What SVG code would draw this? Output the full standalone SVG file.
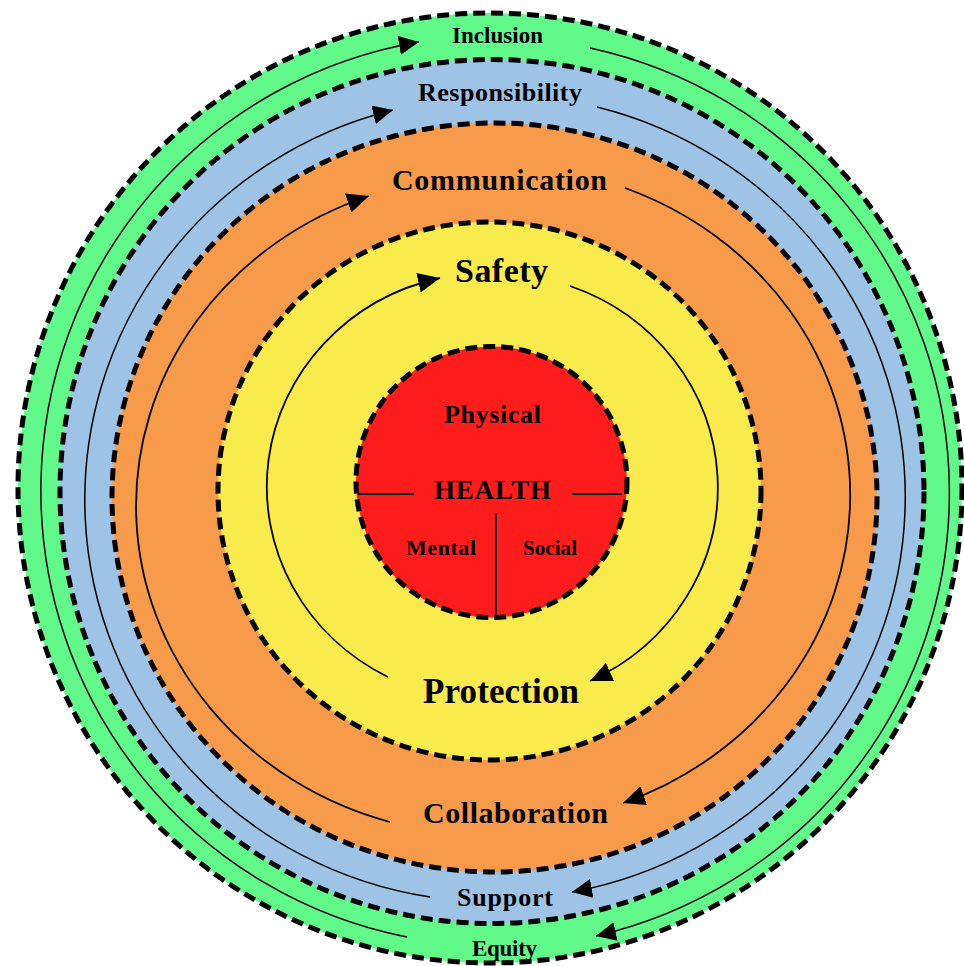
<svg xmlns="http://www.w3.org/2000/svg" width="964" height="966" viewBox="0 0 964 966">
<style>
.ring{stroke:#000;stroke-width:5;stroke-dasharray:12 6}
.arc{fill:none;stroke:#000}
.t{font-family:"Liberation Serif","Times New Roman",serif;font-weight:bold;fill:#000;text-anchor:middle}
.div{stroke:#000;stroke-width:1.8}
</style>
<defs>
<marker id="ahL" viewBox="0 0 22 20" refX="22" refY="10" markerWidth="22" markerHeight="20" markerUnits="userSpaceOnUse" orient="auto"><path d="M0,0 L22,10 L0,20 z" fill="#000"/></marker>
<marker id="ahS" viewBox="0 0 20 19" refX="20" refY="9.5" markerWidth="20" markerHeight="19" markerUnits="userSpaceOnUse" orient="auto"><path d="M0,0 L20,9.5 L0,19 z" fill="#000"/></marker>
</defs>
<rect width="964" height="966" fill="#fff"/>
<g id="ring-inclusion-equity"><ellipse class="ring" cx="490" cy="488" rx="472" ry="475" fill="#60F98A"/></g>
<g id="ring-responsibility-support"><circle class="ring" cx="492" cy="491.5" r="432" fill="#9DC3E6"/></g>
<g id="ring-communication-collaboration"><ellipse class="ring" cx="494.5" cy="497.5" rx="382.5" ry="374.5" fill="#F79A4A"/></g>
<g id="ring-safety-protection"><ellipse class="ring" cx="489.5" cy="491" rx="271.5" ry="269" fill="#F9EB4B"/></g>
<g id="health">
<circle class="ring" cx="491.5" cy="482" r="135.5" fill="#FF1C1C"/>
<line class="div" x1="358" y1="494" x2="414" y2="494"/>
<line class="div" x1="572" y1="494" x2="622" y2="494"/>
<line class="div" x1="496" y1="513" x2="496" y2="617"/>
<text class="t" x="492.5" y="423" font-size="26" textLength="97">Physical</text>
<text class="t" x="492.5" y="499" font-size="27" textLength="117">HEALTH</text>
<text class="t" x="441" y="555" font-size="22" textLength="70">Mental</text>
<text class="t" x="550" y="555" font-size="21" textLength="54">Social</text>
</g>
<g id="connectors">
<path class="arc" stroke-width="1.5" marker-end="url(#ahS)" d="M407,937 A454,455 0 0 1 419,42"/>
<path class="arc" stroke-width="1.5" marker-end="url(#ahS)" d="M590,48 A456,455 0 0 1 596,936"/>
<path class="arc" stroke-width="1.5" marker-end="url(#ahS)" d="M430,897 A408,402 0 0 1 393,110"/>
<path class="arc" stroke-width="1.5" marker-end="url(#ahS)" d="M597,107 A408,402 0 0 1 572,892"/>
<path class="arc" stroke-width="1.8" marker-end="url(#ahL)" d="M390,822 A351,329 0 0 1 369,196"/>
<path class="arc" stroke-width="1.8" marker-end="url(#ahL)" d="M625,188 A351,329 0 0 1 623,803"/>
<path class="arc" stroke-width="1.8" marker-end="url(#ahL)" d="M388,677 A223,214 0 0 1 440,278"/>
<path class="arc" stroke-width="1.8" marker-end="url(#ahL)" d="M570,286 A223,214 0 0 1 590,681"/>
</g>
<g id="labels">
<text class="t" x="497.5" y="43" font-size="23" textLength="91">Inclusion</text>
<text class="t" x="500" y="101" font-size="26" textLength="164">Responsibility</text>
<text class="t" x="499.5" y="190" font-size="30" textLength="215">Communication</text>
<text class="t" x="501.5" y="282" font-size="34" textLength="93">Safety</text>
<text class="t" x="501" y="703" font-size="35" textLength="156">Protection</text>
<text class="t" x="515.5" y="823" font-size="30" textLength="185">Collaboration</text>
<text class="t" x="505" y="906" font-size="26" textLength="96">Support</text>
<text class="t" x="504.5" y="956" font-size="23" textLength="65">Equity</text>
</g>
</svg>
